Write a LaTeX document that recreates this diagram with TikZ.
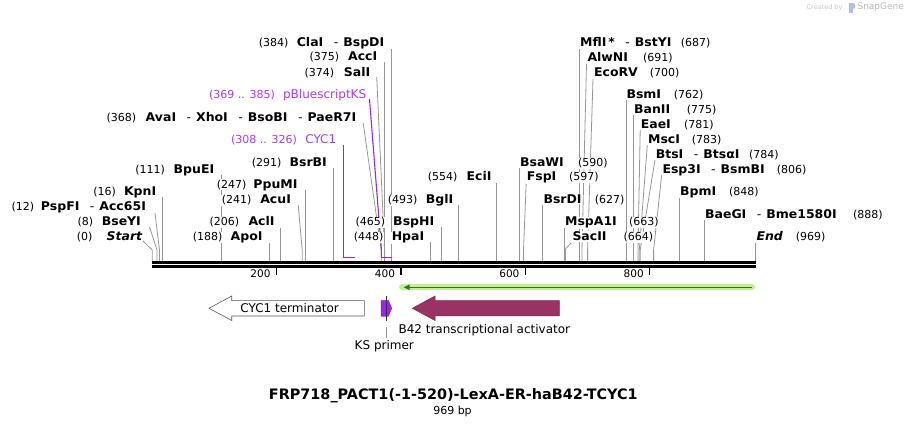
\documentclass[tikz,border=0pt]{standalone}
\usepackage{fontspec}
\setmainfont{DejaVu Sans}
\newfontfamily\enzfont{DejaVu Sans}[FakeStretch=1.04]
\usetikzlibrary{arrows.meta}
\definecolor{leadgray}{RGB}{150,150,150}
\definecolor{purpT}{RGB}{168,60,240}
\definecolor{purpL}{RGB}{150,40,230}
\definecolor{ksfill}{RGB}{160,32,240}
\definecolor{maroon}{RGB}{153,51,99}
\definecolor{halo}{RGB}{195,240,150}
\definecolor{dgreen}{RGB}{55,115,30}
\newcommand\enzsep{\hspace{10.5pt}\textmd{-}\hspace{5pt}}
\begin{document}
\begin{tikzpicture}[x=1pt,y=-1pt,
  lead/.style={draw=leadgray, line width=0.8pt},
  featline/.style={draw=purpL, line width=1.1pt},
  num/.style={font=\fontsize{11}{13}\selectfont, fill=white, inner sep=0.6pt},
  enz/.style={font=\enzfont\fontsize{12}{14}\selectfont\bfseries, fill=white, inner sep=0.6pt},
  pnum/.style={num, text=purpT},
  pname/.style={font=\fontsize{12}{14}\selectfont, text=purpT, fill=white, inner sep=0.6pt},
  L/.style={anchor=base east},
  R/.style={anchor=base west},
  feat/.style={font=\fontsize{12}{14}\selectfont},
  tick/.style={line width=1.3pt},
  ticklab/.style={font=\fontsize{10.5}{12}\selectfont, anchor=east}
]
\useasboundingbox (0,0) rectangle (908,427);

% ---------- leader lines (left side) ----------
\draw[lead] (142.7,240.7) -- (152.3,250) -- (152.3,261);   % Start
\draw[lead] (149.5,227) -- (157,250) -- (157,261);         % BseYI
\draw[lead] (155,213) -- (159.5,250) -- (159.5,261);       % PspFI
\draw[lead] (162.3,197) -- (162.3,261);                    % KpnI
\draw[lead] (221.1,175) -- (221.1,261);                    % BpuEI
\draw[lead] (269.2,243) -- (269.2,261);                    % ApoI
\draw[lead] (280.3,228) -- (280.3,261);                    % AclI
\draw[lead] (298.2,205) -- (302.2,250) -- (302.2,261);     % AcuI
\draw[lead] (305.5,190) -- (305.5,261);                    % PpuMI
\draw[lead] (333.2,168) -- (333.2,261);                    % BsrBI
\draw[lead] (363.2,123) -- (381.2,250) -- (381.2,261);     % AvaI...
\draw[lead] (376.7,77) -- (384.6,250) -- (384.6,261);      % SalI
\draw[lead] (384.3,62) -- (384.3,261);                     % AccI
\draw[lead] (391.6,49) -- (391.6,261);                     % ClaI
\draw[lead] (430.6,242) -- (430.6,261);                    % HpaI
\draw[lead] (441.5,227) -- (441.5,261);                    % BspHI
\draw[lead] (458.6,205) -- (458.6,261);                    % BglI
\draw[lead] (496.7,183) -- (496.7,261);                    % EciI
% ---------- leader lines (right side) ----------
\draw[lead] (519.3,168) -- (519.3,261);                    % BsaWI
\draw[lead] (526.2,183) -- (523.5,250) -- (523.5,261);     % FspI
\draw[lead] (542.5,205) -- (542.5,261);                    % BsrDI
\draw[lead] (564.6,228) -- (564.6,261);                    % MspA1I
\draw[lead] (571,243) -- (565.4,249) -- (565.4,261);       % SacII
\draw[lead] (579.3,49) -- (579.3,261);                     % MflI
\draw[lead] (586.5,64) -- (582,250) -- (582,261);          % AlwNI
\draw[lead] (593,79) -- (587.6,250) -- (587.6,261);        % EcoRV
\draw[lead] (626,100) -- (626,261);                        % BsmI
\draw[lead] (633.8,115) -- (633.8,261);                    % BanII
\draw[lead] (640.2,130) -- (638,250) -- (638,261);         % EaeI
\draw[lead] (647.3,145) -- (639.3,250) -- (639.3,261);     % MscI
\draw[lead] (655,160) -- (640.2,250) -- (640.2,261);       % BtsI
\draw[lead] (661.7,175) -- (653.6,250) -- (653.6,261);     % Esp3I
\draw[lead] (679.6,198) -- (679.6,261);                    % BpmI
\draw[lead] (704.5,220) -- (704.5,261);                    % BaeGI
\draw[lead] (755.2,243) -- (755.2,261);                    % End

% ---------- feature marks (purple) ----------
\draw[featline] (343.5,145) -- (343.5,257.5);
\draw[featline] (343.2,257.8) -- (355,257.8);
\draw[featline] (369.5,99) -- (381.4,250) -- (381.4,257.5);
\draw[featline] (381,257.8) -- (391.8,257.8);

% ---------- labels, left ----------
\node[num,L] (n1) at (289.3,46.6) {(384)};
\node[enz,L] (e1) at (385,46.6) {ClaI\enzsep BspDI};
\node[num,L] (n2) at (340,61) {(375)};
\node[enz,L] (e2) at (378,61) {AccI};
\node[num,L] (n3) at (335,76.6) {(374)};
\node[enz,L] (e3) at (371,76.6) {SalI};
\node[pnum,L] (n4) at (275.7,98.3) {(369 .. 385)};
\node[pname,L] (e4) at (367,98.3) {pBluescriptKS};
\node[num,L] (n5) at (137,121.6) {(368)};
\node[enz,L] (e5) at (357,121.6) {AvaI\enzsep XhoI\enzsep BsoBI\enzsep PaeR7I};
\node[pnum,L] (n6) at (297.7,143.3) {(308 .. 326)};
\node[pname,L] (e6) at (337,143.3) {CYC1};
\node[num,L] (n7) at (282.3,166.6) {(291)};
\node[enz,L] (e7) at (327.7,166.6) {BsrBI};
\node[num,L] (n8) at (165.7,173.3) {(111)};
\node[enz,L] (e8) at (215,173.3) {BpuEI};
\node[num,L] (n9) at (247.3,188.3) {(247)};
\node[enz,L] (e9) at (298.3,188.3) {PpuMI};
\node[num,L] (n10) at (116.7,196) {(16)};
\node[enz,L] (e10) at (157,196) {KpnI};
\node[num,L] (n11) at (252.3,203.6) {(241)};
\node[enz,L] (e11) at (291.7,203.6) {AcuI};
\node[num,L] (n12) at (35,211) {(12)};
\node[enz,L] (e12) at (146.7,211) {PspFI\enzsep Acc65I};
\node[num,L] (n13) at (240,226) {(206)};
\node[enz,L] (e13) at (275.3,226) {AclI};
\node[num,L] (n14) at (94,226) {(8)};
\node[enz,L] (e14) at (141.7,226) {BseYI};
\node[num,L] (n15) at (93.3,241) {(0)};
\node[enz,L,font=\enzfont\fontsize{12}{14}\selectfont\bfseries\itshape] (e15) at (143,241) {Start};
\node[num,L] (n16) at (223.3,241) {(188)};
\node[enz,L] (e16) at (263.3,241) {ApoI};
\node[num,L] (n17) at (458.3,181) {(554)};
\node[enz,L] (e17) at (492.3,181) {EciI};
\node[num,L] (n18) at (418.3,203.6) {(493)};
\node[enz,L] (e18) at (454,203.6) {BglI};
\node[num,L] (n19) at (386,226) {(465)};
\node[enz,L] (e19) at (435,226) {BspHI};
\node[num,L] (n20) at (384.3,241) {(448)};
\node[enz,L] (e20) at (425,241) {HpaI};

% ---------- labels, right ----------
\node[enz,R] (e21) at (579.3,46.6) {MflI\,*\enzsep BstYI};
\node[num,R] (n21) at (680,46.6) {(687)};
\node[enz,R] (e22) at (586.7,61.6) {AlwNI};
\node[num,R] (n22) at (642.3,61.6) {(691)};
\node[enz,R] (e23) at (593.3,76.6) {EcoRV};
\node[num,R] (n23) at (649,76.6) {(700)};
\node[enz,R] (e24) at (625.7,98.3) {BsmI};
\node[num,R] (n24) at (673,98.3) {(762)};
\node[enz,R] (e25) at (633.3,113.6) {BanII};
\node[num,R] (n25) at (686,113.6) {(775)};
\node[enz,R] (e26) at (640,128.3) {EaeI};
\node[num,R] (n26) at (683.3,128.3) {(781)};
\node[enz,R] (e27) at (647.3,143.3) {MscI};
\node[num,R] (n27) at (691,143.3) {(783)};
\node[enz,R] (e28) at (655,158.3) {BtsI\enzsep BtsαI};
\node[num,R] (n28) at (748.3,158.3) {(784)};
\node[enz,R] (e29) at (661.7,173.6) {Esp3I\enzsep BsmBI};
\node[num,R] (n29) at (776,173.6) {(806)};
\node[enz,R] (e30) at (519.3,166.6) {BsaWI};
\node[num,R] (n30) at (577.3,166.6) {(590)};
\node[enz,R] (e31) at (526,181) {FspI};
\node[num,R] (n31) at (568.3,181) {(597)};
\node[enz,R] (e32) at (542.7,203.3) {BsrDI};
\node[num,R] (n32) at (594,203.3) {(627)};
\node[enz,R] (e33) at (679.3,196) {BpmI};
\node[num,R] (n33) at (728.3,196) {(848)};
\node[enz,R] (e34) at (704.3,218.3) {BaeGI\enzsep Bme1580I};
\node[num,R] (n34) at (852.3,218.3) {(888)};
\node[enz,R] (e35) at (564.3,226) {MspA1I};
\node[num,R] (n35) at (628.3,226) {(663)};
\node[enz,R] (e36) at (571.7,241) {SacII};
\node[num,R] (n36) at (622.7,241) {(664)};
\node[enz,R,font=\enzfont\fontsize{12}{14}\selectfont\bfseries\itshape] (e37) at (755.7,241) {End};
\node[num,R] (n37) at (795,241) {(969)};

% ---------- backbone ----------
\fill[black] (152.3,261.5) rectangle (755.7,264.2);
\fill[black] (152.3,265.1) rectangle (755.7,267.8);
\foreach \p/\t in {276.5/200, 401/400, 525.4/600, 649.8/800}{
  \draw[tick] (\p,266.5) -- (\p,275);
  \node[ticklab] at (\p-2.5,273.5) {\t};
}

% ---------- green ORF arrow ----------
\draw[halo, line width=6pt, line cap=round] (402,287.3) -- (752,287.3);
\draw[dgreen, line width=1.5pt, -{Triangle[length=6pt,width=5pt]}] (752,287.3) -- (403.5,287.3);

% ---------- feature arrows ----------
\draw[draw=gray!70!black, fill=white, line width=0.6pt]
  (209,308.3) -- (231.7,296) -- (231.7,300.7) -- (364.3,300.7) -- (364.3,316) -- (231.7,316) -- (231.7,320.5) -- cycle;
\node[feat] (cyc) at (289.7,307.8) {CYC1 terminator};
\draw[draw=maroon!80!black, fill=maroon, line width=0.5pt]
  (412.3,308.3) -- (435,296) -- (435,300.7) -- (559.3,300.7) -- (559.3,316) -- (435,316) -- (435,320.5) -- cycle;
\node[feat] (b42) at (484.3,330) {B42 transcriptional activator};
\draw[draw=ksfill!70!black, fill=ksfill, line width=0.4pt]
  (381,300.3) -- (388.3,300.3) -- (391.7,308.3) -- (388.3,316.3) -- (381,316.3) -- cycle;
\draw[black!80, line width=0.6pt] (386.7,296) -- (386.7,320.7);
\node[feat] (ks) at (384.3,346) {KS primer};
\draw[lead] (386,327) -- (386,338);

% ---------- title ----------
\node[font=\fontsize{14.4}{16}\selectfont\bfseries] (title) at (453.3,395.7) {FRP718\_PACT1(-1-520)-LexA-ER-haB42-TCYC1};
\node[font=\fontsize{11}{13}\selectfont] (bp) at (452.5,411.5) {969 bp};

% ---------- watermark ----------
\node[font=\fontsize{6.5}{8}\selectfont, text=gray!45, anchor=east] (cb) at (846,7.5) {Created by};
\fill[cyan!35!blue!30] (849,3) rectangle (852.5,13);
\fill[cyan!35!blue!30] (852.5,3) .. controls (856,3) and (856,9) .. (852.5,9) -- cycle;
\node[font=\fontsize{9}{10}\selectfont, text=gray!55, anchor=west] (sg) at (854,7.5) {SnapGene};
\end{tikzpicture}
\end{document}
